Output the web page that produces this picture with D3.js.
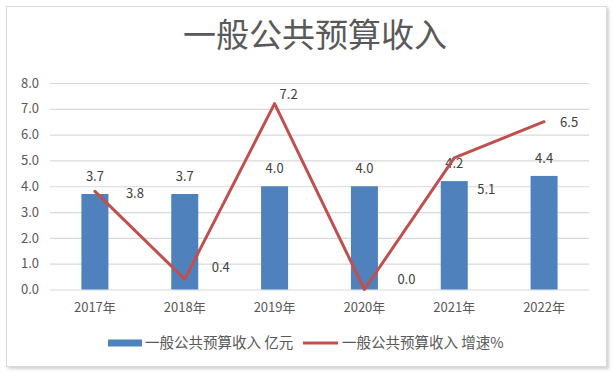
<!DOCTYPE html>
<html lang="zh">
  <head>
    <meta charset="UTF-8" />
    <title>一般公共预算收入</title>
    <script src="https://cdn.jsdelivr.net/npm/d3@7/dist/d3.min.js"></script>
    <style>
      body { margin: 0; background: #fff; }
      text { font-family: "Noto Sans CJK SC", "Noto Sans", sans-serif; }
    </style>
  </head>
  <body>
    <div id="wrapper"></div>
    <script>
      const years = ["2017年", "2018年", "2019年", "2020年", "2021年", "2022年"];
      const revenue = [3.7, 3.7, 4.0, 4.0, 4.2, 4.4];
      const growth = [3.8, 0.4, 7.2, 0.0, 5.1, 6.5];
      const yTicks = [0, 1, 2, 3, 4, 5, 6, 7, 8];
      const seriesNames = ["一般公共预算收入 亿元", "一般公共预算收入 增速%"];
      // where each growth label sits relative to its point
      const growthLabelOffsets = [[40, 2], [36, -12], [14, -10], [42, -11], [32, 31], [25, 0]];

      const dimensions = {
        width: 615,
        height: 377,
        margin: { top: 83, right: 26, bottom: 88, left: 50 },
      };
      dimensions.boundedWidth =
        dimensions.width - dimensions.margin.left - dimensions.margin.right;
      dimensions.boundedHeight = 289.5 - dimensions.margin.top;

      const svg = d3
        .select("#wrapper")
        .append("svg")
        .attr("width", dimensions.width)
        .attr("height", dimensions.height);

      // chart frame with soft shadow
      const defs = svg.append("defs");
      const filter = defs.append("filter").attr("id", "shadow")
        .attr("x", "-5%").attr("y", "-5%").attr("width", "110%").attr("height", "110%");
      filter.append("feDropShadow").attr("dx", 2).attr("dy", 2)
        .attr("stdDeviation", 1.5).attr("flood-color", "#000").attr("flood-opacity", 0.18);
      svg.append("rect")
        .attr("x", 6.5).attr("y", 6.5).attr("width", 600).attr("height", 360)
        .attr("fill", "#fff").attr("stroke", "#d9d9d9").attr("filter", "url(#shadow)");

      svg.append("text")
        .attr("x", 315).attr("y", 47)
        .attr("text-anchor", "middle")
        .attr("font-size", 33)
        .attr("fill", "#595959")
        .text("一般公共预算收入");

      const bounds = svg.append("g")
        .attr("transform", `translate(${dimensions.margin.left},${dimensions.margin.top})`);

      const xScale = d3.scaleBand().domain(years).range([0, dimensions.boundedWidth]);
      const yScale = d3.scaleLinear().domain([0, 8]).range([dimensions.boundedHeight, 0]);
      const xCenter = (d) => xScale(d) + xScale.bandwidth() / 2;

      // gridlines + y labels
      const yAxis = bounds.append("g")
        .call(d3.axisLeft(yScale).tickValues(yTicks).tickFormat(d3.format(".1f"))
          .tickSize(-dimensions.boundedWidth).tickPadding(11));
      yAxis.select(".domain").remove();
      yAxis.selectAll("line").attr("stroke", "#d9d9d9").attr("stroke-width", 1.2);
      yAxis.selectAll("text").attr("fill", "#595959").attr("font-size", 13)
        .attr("font-family", "'Noto Sans', sans-serif");

      const xAxis = bounds.append("g")
        .attr("transform", `translate(0,${dimensions.boundedHeight})`)
        .call(d3.axisBottom(xScale).tickSize(0).tickPadding(13));
      xAxis.select(".domain").remove();
      xAxis.selectAll("text").attr("fill", "#595959").attr("font-size", 13);

      const barWidth = 27;
      bounds.selectAll(".bar").data(revenue).join("rect")
        .attr("class", "bar")
        .attr("x", (d, i) => xCenter(years[i]) - barWidth / 2)
        .attr("y", (d) => yScale(d))
        .attr("width", barWidth)
        .attr("height", (d) => dimensions.boundedHeight - yScale(d))
        .attr("fill", "#4f81bd");

      bounds.selectAll(".bar-label").data(revenue).join("text")
        .attr("class", "bar-label")
        .attr("x", (d, i) => xCenter(years[i]))
        .attr("y", (d) => yScale(d) - 13)
        .attr("text-anchor", "middle")
        .attr("font-size", 13)
        .attr("font-family", "'Noto Sans', sans-serif")
        .attr("fill", "#404040")
        .text((d) => d3.format(".1f")(d));

      const lineGenerator = d3.line()
        .x((d, i) => xCenter(years[i]))
        .y((d) => yScale(d));

      bounds.append("path")
        .attr("d", lineGenerator(growth))
        .attr("fill", "none")
        .attr("stroke", "#c0504d")
        .attr("stroke-width", 3)
        .attr("stroke-linejoin", "round")
        .attr("stroke-linecap", "round");

      bounds.selectAll(".line-label").data(growth).join("text")
        .attr("class", "line-label")
        .attr("x", (d, i) => xCenter(years[i]) + growthLabelOffsets[i][0])
        .attr("y", (d, i) => yScale(d) + growthLabelOffsets[i][1] + 5)
        .attr("text-anchor", "middle")
        .attr("font-size", 13)
        .attr("font-family", "'Noto Sans', sans-serif")
        .attr("fill", "#404040")
        .text((d) => d3.format(".1f")(d));

      // legend
      const legend = svg.append("g").attr("transform", "translate(108,343)");
      legend.append("rect").attr("x", 0).attr("y", -3.5).attr("width", 34).attr("height", 7)
        .attr("fill", "#4f81bd");
      legend.append("text").attr("x", 37).attr("y", 5)
        .attr("font-size", 14.5).attr("fill", "#595959").text(seriesNames[0]);
      legend.append("line").attr("x1", 195).attr("x2", 230).attr("y1", 0).attr("y2", 0)
        .attr("stroke", "#c0504d").attr("stroke-width", 3);
      legend.append("text").attr("x", 234).attr("y", 5)
        .attr("font-size", 14.5).attr("fill", "#595959").text(seriesNames[1]);
    </script>
  </body>
</html>
